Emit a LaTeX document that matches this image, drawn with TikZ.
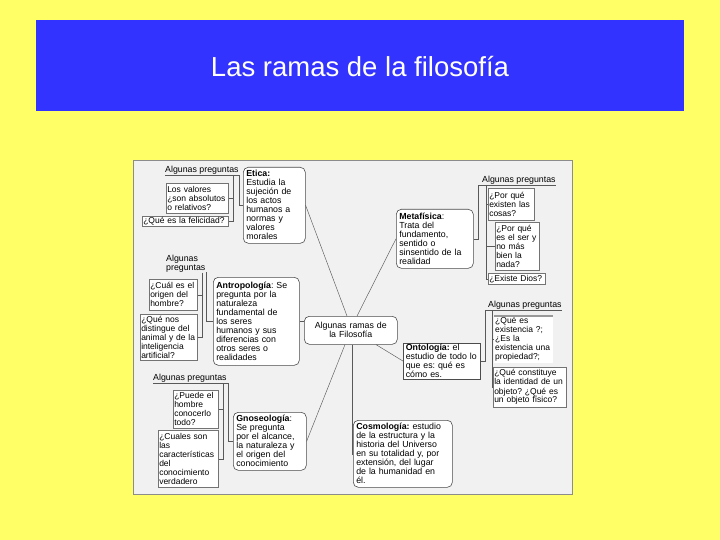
\documentclass[tikz,border=0pt]{standalone}
\usepackage{fontspec}
\setmainfont{Liberation Sans}
\usetikzlibrary{shadows}
\definecolor{slidebg}{RGB}{255,255,102}
\definecolor{titlebg}{RGB}{51,51,255}
\definecolor{panelbg}{RGB}{241,241,241}
\begin{document}
\begin{tikzpicture}[x=1pt,y=-1pt,
  txt/.style={font=\fontsize{8.8}{9}\selectfont\frenchspacing},
  qtxt/.style={font=\fontsize{8.5}{9}\selectfont\frenchspacing},
  branch/.style={txt, draw=black!70, fill=white, line width=0.6pt, rounded corners=5pt, align=left, inner xsep=3pt, inner ysep=2pt, anchor=north west},
  qbox/.style={qtxt, draw=black!55, fill=white, line width=0.5pt, align=left, inner xsep=1pt, inner ysep=1.5pt, anchor=north west, drop shadow={shadow xshift=1.2pt, shadow yshift=-1.2pt, fill=black!35, opacity=1}},
  qplain/.style={qtxt, fill=white, align=left, inner xsep=1pt, inner ysep=1.5pt, anchor=north west},
  hdr/.style={txt, inner xsep=0pt, inner ysep=0pt, anchor=south west},
  conn/.style={draw=black!65, line width=0.45pt},
]
\useasboundingbox (0,0) rectangle (720,540);
\fill[slidebg] (0,0) rectangle (720,540);
\fill[titlebg] (36,20) rectangle (684,111);
\node[font=\fontsize{27.5}{30}\selectfont, text=white, anchor=base, inner sep=0pt] (title) at (360,77) {Las ramas de la filosofía};

% panel
\draw[draw=black!45, fill=panelbg, line width=0.5pt] (133,160) rectangle (572,494);

% branches
\node[branch, text width=56pt, minimum height=76pt] (etica) at (243,167) {\textbf{Etica:}\\Estudia la\\sujeción de\\los actos\\humanos a\\normas y\\valores\\morales};
\node[branch, text width=80pt, minimum height=88pt] (antro) at (213,277) {\textbf{Antropología}: Se\\pregunta por la\\naturaleza\\fundamental de\\los seres\\humanos y sus\\diferencias con\\otros seres o\\realidades};
\node[branch, text width=67pt, minimum height=58pt] (gnoseo) at (233,412) {\textbf{Gnoseología}:\\Se pregunta\\por el alcance,\\la naturaleza y\\el origen del\\conocimiento};
\node[branch, text width=87pt, minimum height=28pt, align=center] (ctr) at (304,316) {Algunas ramas de\\la Filosofía};
\node[branch, text width=71pt, minimum height=59pt] (meta) at (396,209) {\textbf{Metafísica}:\\Trata del\\fundamento,\\sentido o\\sinsentido de la\\realidad};
\node[branch, rounded corners=0pt, text width=72pt, minimum height=35pt, inner xsep=2.5pt, inner ysep=1pt] (onto) at (403,343) {\textbf{Ontología:} el\\estudio de todo lo\\que es: qué es\\cómo es.};
\node[branch, text width=93pt, minimum height=67pt] (cosmo) at (353,420) {\textbf{Cosmología:} estudio\\de la estructura y la\\historia del Universo\\en su totalidad y, por\\extensión, del lugar\\de la humanidad en\\él.};

% headers
\node[hdr] (h1) at (165,175) {Algunas preguntas};
\node[hdr, align=left, anchor=north west] (h2) at (166,255) {Algunas\\preguntas};
\node[hdr] (h3) at (153,383) {Algunas preguntas};
\node[hdr] (h4) at (482,185) {Algunas preguntas};
\node[hdr] (h5) at (488,310) {Algunas preguntas};

% questions
\node[qbox, text width=60pt, minimum height=30pt] (q1) at (166,183) {Los valores\\¿son absolutos\\o relativos?};
\node[qbox, text width=84pt, minimum height=10pt, inner ysep=1pt] (q2) at (142,216) {¿Qué es la felicidad?};
\node[qbox, text width=46pt, minimum height=31pt] (q3) at (149,279) {¿Cuál es el\\origen del\\hombre?};
\node[qbox, text width=55pt, minimum height=46pt] (q4) at (140,314) {¿Qué nos\\distingue del\\animal y de la\\inteligencia\\artificial?};
\node[qbox, text width=43pt, minimum height=38pt] (q5) at (173,390) {¿Puede el\\hombre\\conocerlo\\todo?};
\node[qbox, text width=58pt, minimum height=57pt] (q6) at (158,430) {¿Cuales son\\las\\características\\del\\conocimiento\\verdadero};
\node[qbox, text width=44pt, minimum height=32pt] (q7) at (488,188) {¿Por qué\\existen las\\cosas?};
\node[qbox, text width=42pt, minimum height=48pt] (q8) at (495,222) {¿Por qué\\es el ser y\\no más\\bien la\\nada?};
\node[qbox, text width=55pt, minimum height=11pt, inner ysep=1pt] (q9) at (488,273) {¿Existe Dios?};
\node[qplain, text width=57pt, minimum height=47pt] (q10) at (494,316) {¿Qué es\\existencia ?;\\¿Es la\\existencia una\\propiedad?;};
\node[qbox, text width=71pt, minimum height=40pt] (q11) at (493,367) {¿Qué constituye\\la identidad de un\\objeto? ¿Qué es\\un objeto físico?};
\draw[black!40, line width=2pt] (q10.north west) -- (q10.north east);

% hanger coordinates
\coordinate (h1hang) at ([xshift=-6pt]h1.south east);
\coordinate (h2hang) at ([xshift=-3pt]h2.south east);
\coordinate (h3hang) at ([xshift=-4pt]h3.south east);
\coordinate (h4hang) at ([xshift=4pt]h4.south west);
\coordinate (h5hang) at ([xshift=4pt]h5.south west);

% branch to header connectors
\draw[conn] (etica.west) -- ++(-4,0) |- (h1.south west);
\draw[conn] (antro.west) -- ++(-7,0) |- (h2.south east);
\draw[conn] (gnoseo.west) -- ++(-5,0) |- (h3.south west);
\draw[conn] (meta.east) -- ++(5,0) |- (h4.south east);
\draw[conn] (onto.east) -- ++(5,0) |- (h5.south east);

% header to question connectors
\draw[conn] (h1hang) |- (q2.east);
\draw[conn] (q1.east) -- (q1.east -| h1hang);
\draw[conn] (h2hang) |- (q4.east);
\draw[conn] (q3.east) -- (q3.east -| h2hang);
\draw[conn] (h3hang) |- (q6.east);
\draw[conn] (q5.east) -- (q5.east -| h3hang);
\draw[conn] (h4hang) |- (q9.west);
\draw[conn] (q7.west) -- (q7.west -| h4hang);
\draw[conn] (q8.west) -- (q8.west -| h4hang);
\draw[conn] (h5hang) |- (q11.west);
\draw[conn] (q10.west) -- (q10.west -| h5hang);

% center to branches
\draw[conn] ([xshift=43pt]ctr.north west) -- (etica.east);
\draw[conn] ([xshift=53pt]ctr.north west) -- (meta.west);
\draw[conn] (antro.east) -- (antro.east -| ctr.west);
\draw[conn] ([xshift=72pt]ctr.south west) -- (onto.west);
\draw[conn] ([xshift=41pt]ctr.south west) -- (gnoseo.east);
\draw[conn] ([xshift=48pt]ctr.south west) |- (cosmo.west);
\end{tikzpicture}
\end{document}
